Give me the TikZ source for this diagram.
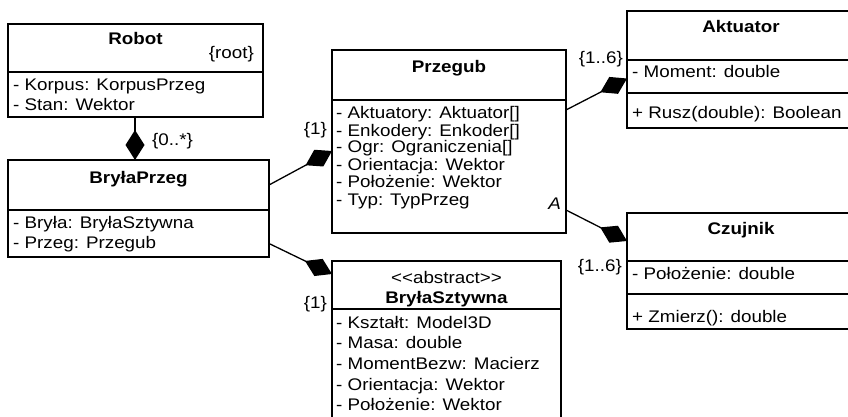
\documentclass[tikz,border=0pt]{standalone}
\usepackage{fontspec}
\setmainfont[FakeStretch=1.12]{Liberation Sans}
\usetikzlibrary{arrows.meta}

\begin{document}
\begin{tikzpicture}[x=1pt,y=-1pt,
		klasa/.style={draw, line width=1.6pt, inner sep=0pt, outer sep=0pt, anchor=north west},
		tekst/.style={inner sep=0pt, font=\fontsize{16.8}{20}\selectfont},
		atr/.style={tekst, anchor=base west},
		nazwa/.style={tekst, anchor=base, font=\fontsize{16.8}{20}\selectfont\bfseries},
		komp/.style={line width=1.3pt, -{Diamond[length=30pt,width=19pt]}}]
		\clip (0,0) rectangle (848,417);
		
		% Robot
		\node[klasa, minimum width=255pt, minimum height=48pt] (robotnag) at (8,24) {};
		\node[klasa, minimum width=255pt, minimum height=45pt] (robotatr) at (8,72) {};
		\node[nazwa] (robotn) at (135.5,45) {Robot};
		\node[tekst, anchor=base east] (robotr) at (254,59) {\{root\}};
		\node[atr] (robota1) at (13,91) {- Korpus: KorpusPrzeg};
		\node[atr] (robota2) at (13,111) {- Stan: Wektor};
		
		% BryłaPrzeg
		\node[klasa, minimum width=261pt, minimum height=50pt] (bprzegnag) at (8,160) {};
		\node[klasa, minimum width=261pt, minimum height=47pt] (bprzegatr) at (8,210) {};
		\node[nazwa] (bprzegn) at (138.5,183) {BryłaPrzeg};
		\node[atr] (bprzega1) at (13,228) {- Bryła: BryłaSztywna};
		\node[atr] (bprzega2) at (13,248) {- Przeg: Przegub};
		
		% Przegub
		\node[klasa, minimum width=234pt, minimum height=50pt] (przegnag) at (332,50) {};
		\node[klasa, minimum width=234pt, minimum height=133pt] (przegatr) at (332,100) {};
		\node[nazwa] (przegn) at (449,73) {Przegub};
		\node[atr] (przega1) at (336,119) {- Aktuatory: Aktuator[]};
		\node[atr] (przega2) at (336,136) {- Enkodery: Enkoder[]};
		\node[atr] (przega3) at (336,153) {- Ogr: Ograniczenia[]};
		\node[atr] (przega4) at (336,170) {- Orientacja: Wektor};
		\node[atr] (przega5) at (336,187) {- Położenie: Wektor};
		\node[atr] (przega6) at (336,205) {- Typ: TypPrzeg};
		\node[tekst, anchor=base east] (przegA) at (561,209) {\itshape A};
		
		% BryłaSztywna
		\node[klasa, minimum width=229pt, minimum height=48pt] (bsztnag) at (332,261) {};
		\node[klasa, minimum width=229pt, minimum height=120pt] (bsztatr) at (332,309) {};
		\node[tekst, anchor=base] (bsztab) at (446.5,283) {<\kern0pt<abstract>\kern0pt>};
		\node[nazwa] (bsztn) at (446.5,303) {BryłaSztywna};
		\node[atr] (bszta1) at (336,328) {- Kształt: Model3D};
		\node[atr] (bszta2) at (336,348) {- Masa: double};
		\node[atr] (bszta3) at (336,369) {- MomentBezw: Macierz};
		\node[atr] (bszta4) at (336,390) {- Orientacja: Wektor};
		\node[atr] (bszta5) at (336,410) {- Położenie: Wektor};
		
		% Aktuator
		\node[klasa, minimum width=228pt, minimum height=49pt] (aktnag) at (627,11) {};
		\node[klasa, minimum width=228pt, minimum height=33pt] (aktatr) at (627,60) {};
		\node[klasa, minimum width=228pt, minimum height=35pt] (aktop) at (627,93) {};
		\node[nazwa] (aktn) at (741,33) {Aktuator};
		\node[atr] (akta1) at (632,78) {- Moment: double};
		\node[atr] (akto1) at (632,119) {+ Rusz(double): Boolean};
		
		% Czujnik
		\node[klasa, minimum width=228pt, minimum height=48pt] (czujnag) at (627,213) {};
		\node[klasa, minimum width=228pt, minimum height=33pt] (czujatr) at (627,261) {};
		\node[klasa, minimum width=228pt, minimum height=35pt] (czujop) at (627,294) {};
		\node[nazwa] (czujn) at (741,234) {Czujnik};
		\node[atr] (czuja1) at (632,279) {- Położenie: double};
		\node[atr] (czujo1) at (632,322) {+ Zmierz(): double};
		
		% Krotności
		\node[tekst, anchor=base west] (k1) at (152,146) {\{0..*\}};
		\node[tekst, anchor=base east] (k2) at (327,135) {\{1\}};
		\node[tekst, anchor=base east] (k3) at (327,308) {\{1\}};
		\node[tekst, anchor=base east] (k4) at (623,64) {\{1..6\}};
		\node[tekst, anchor=base east] (k5) at (622,271) {\{1..6\}};
		
		% Kompozycje
		\draw[komp] (robotatr.south -| 135,0) -- (bprzegnag.north -| 135,0);
		\draw[komp] (bprzegnag.east) -- ([yshift=-51pt]przegatr.north west);
		\draw[komp] ([yshift=-10pt]bprzegatr.east) -- ([yshift=11pt]bsztnag.west);
		\draw[komp] ([yshift=-10pt]przegatr.north east) -- ([yshift=-2pt]aktatr.west);
		\draw[komp] ([yshift=23pt]przegatr.south east) -- ([yshift=-4pt]czujnag.west);
	\end{tikzpicture}
\end{document}
